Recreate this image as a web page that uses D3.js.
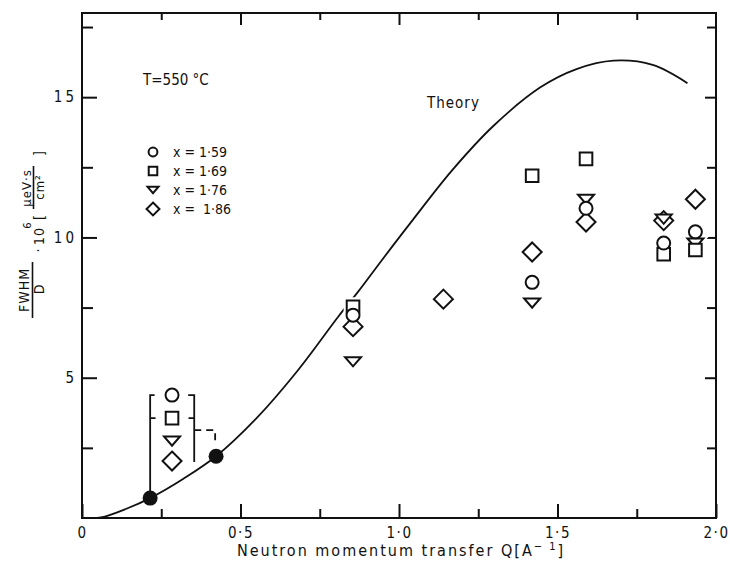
<!DOCTYPE html>
<html>
<head>
<meta charset="utf-8">
<script src="https://cdn.jsdelivr.net/npm/d3@7"></script>
<style>
  body { margin: 0; background: #fff; }
  svg text { font-family: "DejaVu Sans Condensed", "DejaVu Sans", sans-serif; fill: #111; }
</style>
</head>
<body>
<svg id="chart" width="730" height="565"></svg>
<script>
// Reference data (T = 550 C)
var seriesNames = ["x = 1\u00b759", "x = 1\u00b769", "x = 1\u00b776", "x =  1\u00b786"];
var seriesShapes = ["circle", "square", "triangle", "diamond"];

var q159 = [0.284, 0.855, 1.42, 1.59, 1.835, 1.935];
var v159 = [4.38, 7.23, 8.4, 11.04, 9.8, 10.2];
var q169 = [0.284, 0.855, 1.42, 1.59, 1.835, 1.935];
var v169 = [3.56, 7.53, 12.2, 12.8, 9.4, 9.55];
var q176 = [0.284, 0.855, 1.42, 1.59, 1.835, 1.935];
var v176 = [2.74, 5.57, 7.66, 11.36, 10.65, 9.8];
var q186 = [0.284, 0.855, 1.14, 1.42, 1.59, 1.835, 1.935];
var v186 = [2.03, 6.82, 7.8, 9.48, 10.55, 10.6, 11.36];

// filled points on the theory curve
var qFilled = [0.215, 0.423];
var vFilled = [0.71, 2.2];

// theory curve
var qTheory = [0.02, 0.06, 0.14, 0.215, 0.32, 0.423, 0.55, 0.68, 0.81, 0.87, 0.95, 1.035, 1.168, 1.3, 1.446, 1.56, 1.677, 1.8, 1.91];
var vTheory = [0.0, 0.02, 0.33, 0.71, 1.4, 2.2, 3.55, 5.25, 7.2, 8.05, 9.25, 10.5, 12.4, 14.0, 15.35, 16.0, 16.3, 16.15, 15.5];

// axis ticks
var xMajor = [0, 0.5, 1.0, 1.5, 2.0];
var xMajorLabels = ["0", "0\u00b75", "1\u00b70", "1\u00b75", "2\u00b70"];
var xMinor = [0.25, 0.75, 1.25, 1.75];
var yMajor = [5, 10, 15];
var yMinor = [2.5, 7.5, 12.5, 17.5];

var plotLeft = 82, plotRight = 716, plotTop = 13, plotBottom = 518;

var svg = d3.select("#chart");

var x = d3.scaleLinear().domain([0, 2]).range([plotLeft, plotRight]);
var y = d3.scaleLinear().domain([0, 18]).range([plotBottom, plotTop]);

// marker shapes (pixel sizes)
function shapePath(kind, s) {
    s = s || 1;
    if (kind === "circle") {
        var r = 6.5 * s;
        return "M" + r + ",0A" + r + "," + r + " 0 1,1 " + (-r) + ",0A" + r + "," + r + " 0 1,1 " + r + ",0Z";
    }
    if (kind === "square") {
        var h = 6.3 * s;
        return "M" + (-h) + "," + (-h) + "H" + h + "V" + h + "H" + (-h) + "Z";
    }
    if (kind === "triangle") {
        var w = 8 * s, t = 4.6 * s;
        return "M" + (-w) + "," + (-t) + "H" + w + "L0," + t + "Z";
    }
    var d = 9.5 * s;
    return "M0," + (-d) + "L" + d + ",0L0," + d + "L" + (-d) + ",0Z";
}

// frame
svg.append("rect")
    .attr("x", plotLeft).attr("y", plotTop)
    .attr("width", plotRight - plotLeft).attr("height", plotBottom - plotTop)
    .attr("fill", "none").attr("stroke", "#111").attr("stroke-width", 2);

function styleAxis(g) {
    g.select(".domain").remove();
    g.selectAll(".tick line").attr("stroke", "#111").attr("stroke-width", 2);
    g.selectAll(".tick text").style("font-size", "15px").style("letter-spacing", "1.5px").attr("fill", "#111");
}

// bottom axis
svg.append("g").attr("transform", "translate(0," + plotBottom + ")")
    .call(d3.axisBottom(x).tickValues(xMajor).tickSize(-14).tickPadding(9)
        .tickFormat(function (d, i) { return xMajorLabels[i]; }))
    .call(styleAxis);
svg.append("g").attr("transform", "translate(0," + plotBottom + ")")
    .call(d3.axisBottom(x).tickValues(xMinor).tickSize(-9).tickFormat(""))
    .call(styleAxis);

// top axis
svg.append("g").attr("transform", "translate(0," + plotTop + ")")
    .call(d3.axisTop(x).tickValues(xMajor.slice(1, 4)).tickSize(-12).tickFormat(""))
    .call(styleAxis);
svg.append("g").attr("transform", "translate(0," + plotTop + ")")
    .call(d3.axisTop(x).tickValues(xMinor).tickSize(-7).tickFormat(""))
    .call(styleAxis);

// left axis
svg.append("g").attr("transform", "translate(" + plotLeft + ",0)")
    .call(d3.axisLeft(y).tickValues(yMajor).tickSize(-15).tickPadding(5))
    .call(styleAxis)
    .call(function (g) { g.selectAll(".tick text").style("letter-spacing", "3px"); });
svg.append("g").attr("transform", "translate(" + plotLeft + ",0)")
    .call(d3.axisLeft(y).tickValues(yMinor).tickSize(-11).tickFormat(""))
    .call(styleAxis);

// right axis
svg.append("g").attr("transform", "translate(" + plotRight + ",0)")
    .call(d3.axisRight(y).tickValues(yMajor).tickSize(-11).tickFormat(""))
    .call(styleAxis);
svg.append("g").attr("transform", "translate(" + plotRight + ",0)")
    .call(d3.axisRight(y).tickValues(yMinor).tickSize(-9).tickFormat(""))
    .call(styleAxis);

// x axis title
var xt = svg.append("text")
    .attr("x", (plotLeft + plotRight) / 2 + 2).attr("y", 556)
    .attr("text-anchor", "middle")
    .style("font-size", "16px")
    .style("letter-spacing", "2px");
xt.append("tspan").text("Neutron momentum transfer Q[A");
xt.append("tspan").attr("dy", -6).style("font-size", "11px").text("\u2212 1");
xt.append("tspan").attr("dy", 6).text("]");

// y axis title, built as two stacked fractions
var yl = svg.append("g").attr("transform", "rotate(-90)");
function ylText(str, sx, sy, size) {
    return yl.append("text")
        .attr("x", -sy).attr("y", sx)
        .attr("text-anchor", "middle")
        .style("font-size", size + "px")
        .style("letter-spacing", "1px")
        .text(str);
}
ylText("FWHM", 29, 290, 14);
yl.append("line").attr("x1", -318).attr("x2", -262).attr("y1", 32.5).attr("y2", 32.5)
    .attr("stroke", "#111").attr("stroke-width", 1.6);
ylText("D", 44, 289, 14);
ylText("\u00b7", 43, 250, 14);
ylText("10", 44, 236, 14);
ylText("6", 31, 225, 11);
ylText("[", 44, 217, 14);
ylText("\u03bceV\u00b7s", 31, 188, 13);
yl.append("line").attr("x1", -209).attr("x2", -166).attr("y1", 33.5).attr("y2", 33.5)
    .attr("stroke", "#111").attr("stroke-width", 1.6);
ylText("cm\u00b2", 44, 187, 13);
ylText("]", 44, 153, 14);

// annotations
svg.append("text").attr("x", 143).attr("y", 85)
    .style("font-size", "15px").text("T=550 \u00b0C");
svg.append("text").attr("x", 427).attr("y", 108)
    .style("font-size", "15px").style("letter-spacing", "1px").text("Theory");

// theory curve
var line = d3.line()
    .x(function (d) { return x(d[0]); })
    .y(function (d) { return y(d[1]); })
    .curve(d3.curveCatmullRom);
svg.append("path")
    .datum(qTheory.map(function (q, i) { return [q, vTheory[i]]; }))
    .attr("d", line)
    .attr("fill", "none").attr("stroke", "#111").attr("stroke-width", 1.8);

// brackets grouping the low-Q points
var bl = svg.append("g").attr("fill", "none").attr("stroke", "#111").attr("stroke-width", 1.8);
bl.append("path").attr("d",
    "M" + x(0.229) + "," + y(4.38) + "H" + x(0.215) + "V" + y(vFilled[0]) +
    "M" + x(0.215) + "," + y(3.56) + "H" + x(0.232));
bl.append("path").attr("d",
    "M" + x(0.335) + "," + y(4.38) + "H" + x(0.354) + "V" + y(2.0) +
    "M" + x(0.336) + "," + y(3.56) + "H" + x(0.354));
bl.append("path").attr("d",
    "M" + x(0.354) + "," + y(3.13) + "H" + x(0.42) + "V" + y(2.7))
    .attr("stroke-dasharray", "7,5");

// data markers
var allSeries = [
    { q: q186, v: v186, shape: "diamond" },
    { q: q176, v: v176, shape: "triangle" },
    { q: q169, v: v169, shape: "square" },
    { q: q159, v: v159, shape: "circle" }
];
allSeries.forEach(function (s) {
    svg.append("g").selectAll("path")
        .data(s.q.map(function (q, i) { return [q, s.v[i]]; }))
        .enter().append("path")
        .attr("transform", function (d) { return "translate(" + x(d[0]) + "," + y(d[1]) + ")"; })
        .attr("d", shapePath(s.shape, 1.1))
        .attr("fill", "#fff").attr("stroke", "#fff").attr("stroke-width", 5);
});
allSeries.forEach(function (s) {
    svg.append("g").selectAll("path")
        .data(s.q.map(function (q, i) { return [q, s.v[i]]; }))
        .enter().append("path")
        .attr("transform", function (d) { return "translate(" + x(d[0]) + "," + y(d[1]) + ")"; })
        .attr("d", shapePath(s.shape))
        .attr("fill", "#fff").attr("stroke", "#111").attr("stroke-width", 2);
});

// filled circles
svg.append("g").selectAll("circle")
    .data(qFilled.map(function (q, i) { return [q, vFilled[i]]; }))
    .enter().append("circle")
    .attr("cx", function (d) { return x(d[0]); })
    .attr("cy", function (d) { return y(d[1]); })
    .attr("r", 7.5).attr("fill", "#111");

// legend
var legend = svg.append("g").selectAll("g")
    .data(seriesNames)
    .enter().append("g")
    .attr("transform", function (d, i) { return "translate(153," + (152 + i * 19) + ")"; });
legend.append("path")
    .attr("d", function (d, i) { return shapePath(seriesShapes[i], 0.68); })
    .attr("fill", "#fff").attr("stroke", "#111").attr("stroke-width", 2);
legend.append("text")
    .attr("x", 20).attr("y", 5)
    .style("font-size", "14px")
    .style("white-space", "pre")
    .text(function (d) { return d; });
</script>
</body>
</html>
